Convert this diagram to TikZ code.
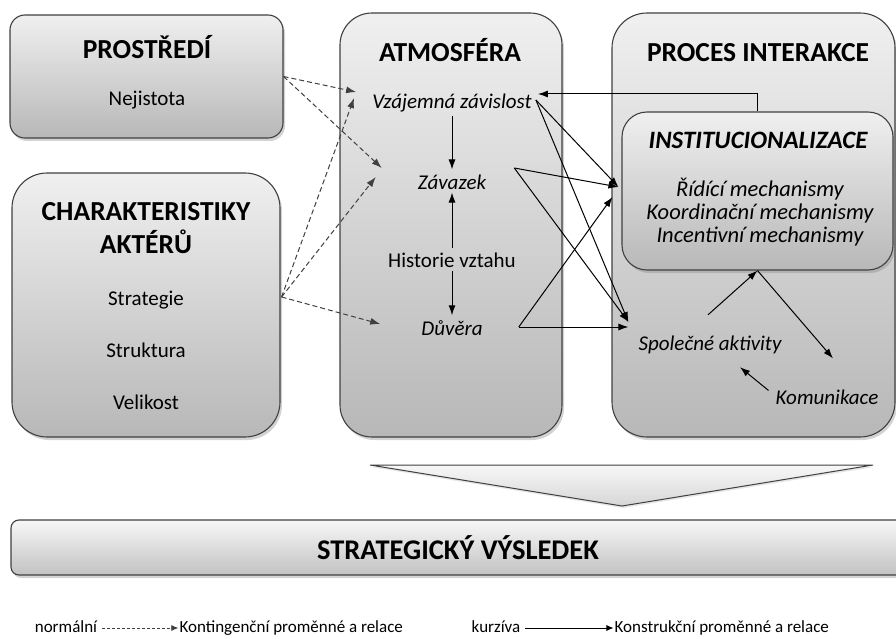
\documentclass[tikz,border=0pt]{standalone}
\usepackage{fontspec}
\setmainfont{Carlito}
\usetikzlibrary{arrows.meta,positioning,calc,shadows}

\tikzset{
  panel/.style={draw=black!75, line width=1.1pt, top color=black!6, bottom color=black!28,
    drop shadow={shadow xshift=2pt, shadow yshift=-3pt, opacity=0.35}, inner sep=0pt},
  paneltitle/.style={font=\fontsize{27.5}{33}\selectfont\bfseries, inner sep=1pt},
  item/.style={font=\fontsize{21}{25}\selectfont, inner sep=1pt},
  itemit/.style={font=\fontsize{21}{25}\selectfont\itshape, inner sep=1pt},
  construct/.style={-{Latex[length=10pt,width=7pt]}, line width=1pt, black},
  contingent/.style={-{Latex[length=10pt,width=7pt]}, line width=1pt, black!75, dash pattern=on 5pt off 3pt},
  legendtext/.style={font=\fontsize{17}{20}\selectfont, inner sep=1pt, text height=12pt, text depth=4pt},
}

\begin{document}
\begin{tikzpicture}[x=1pt,y=-1pt]
\useasboundingbox (0,0) rectangle (896,639);

% panels
\node[panel, rounded corners=15pt, minimum width=273pt, minimum height=123pt] (prostredi) at (146.5,76.5) {};
\node[panel, rounded corners=35pt, minimum width=268pt, minimum height=264pt] (aktery) at (146,305) {};
\node[panel, rounded corners=32pt, minimum width=222pt, minimum height=424pt] (atmos) at (451,225) {};
\node[panel, rounded corners=35pt, minimum width=283pt, minimum height=424pt] (proces) at (753.5,225) {};
\node[panel, rounded corners=25pt, minimum width=271pt, minimum height=158pt] (inst) at (757.5,191) {};

% prostredi + aktery
\node[paneltitle] (tprostredi) at (147,47) {PROSTŘEDÍ};
\node[item] (nejistota) at (147,100) {Nejistota};
\node[paneltitle, align=center] (taktery) at (146,228) {CHARAKTERISTIKY\\AKTÉRŮ};
\node[item] (strategie) at (146,300) {Strategie};
\node[item] (struktura) at (146,350) {Struktura};
\node[item] (velikost) at (146,402) {Velikost};

% atmosfera
\node[paneltitle] (tatmos) at (450,50) {ATMOSFÉRA};
\node[itemit] (vz) at (452,103) {Vzájemná závislost};
\node[itemit] (zav) at (452,182) {Závazek};
\node[item] (hist) at (452,260) {Historie vztahu};
\node[itemit] (duv) at (452,328) {Důvěra};

% proces interakce
\node[paneltitle] (tproces) at (758,53) {PROCES INTERAKCE};
\node[font=\fontsize{25}{30}\selectfont\bfseries\itshape, inner sep=1pt] (tinst) at (758,140) {INSTITUCIONALIZACE};
\node[font=\fontsize{22.5}{23}\selectfont\itshape, align=center, inner sep=1pt] (mech) at (760,212)
  {Řídící mechanismy\\Koordinační mechanismy\\Incentivní mechanismy};
\node[itemit] (spol) at (710,345) {Společné aktivity};
\node[itemit] (kom) at (827,397) {Komunikace};

% vysledek
\draw[draw=black!75, line width=1pt, top color=black!3, bottom color=black!16,
  drop shadow={shadow xshift=1pt, shadow yshift=-2pt, opacity=0.2}]
  (370,465) -- (873,465) -- (622,506) -- cycle;
\node[panel, rounded corners=8pt, minimum width=894pt, minimum height=55pt, top color=black!3, bottom color=black!24,
  font=\fontsize{28.5}{33}\selectfont\bfseries] (vysledek) at (458,547.5) {STRATEGICKÝ VÝSLEDEK};

% contingent relations
\coordinate (akout) at ($(aktery.east)+(1,-8)$);
\draw[contingent] (prostredi.east) -- ($(vz.west)+(-15,-11)$);
\draw[contingent] (prostredi.east) -- ($(zav.west)+(-35,-14)$);
\draw[contingent] (akout) -- ($(vz.west)+(-17,-5)$);
\draw[contingent] (akout) -- ($(zav.west)+(-41,-5)$);
\draw[contingent] (akout) -- ($(duv.west)+(-40,-4)$);

% construct relations
\draw[construct, shorten <=3pt, shorten >=4pt] (vz.south) -- (zav.north);
\draw[construct, shorten <=3pt, shorten >=2pt] (hist.north) -- (zav.south);
\draw[construct, shorten <=2pt, shorten >=4pt] (hist.south) -- (duv.north);

\coordinate (vzout) at ($(vz.east)+(3,-3)$);
\coordinate (zavout) at ($(zav.east)+(27,-14)$);
\coordinate (duvout) at ($(duv.east)+(35,-1)$);
\draw[construct] (vzout) -- ($(inst.west)+(-3,-4)$);
\draw[construct] (vzout) -- ($(spol.west)+(-9,-23)$);
\draw[construct] (zavout) -- ($(inst.west)+(-3,-4)$);
\draw[construct] (zavout) -- ($(spol.west)+(-9,-23)$);
\draw[construct] (duvout) -- ($(inst.west)+(-9,6)$);
\draw[construct] (duvout) -- ($(spol.west)+(-9,-18)$);
\draw[construct] (inst.north) |- ($(vz.east)+(5,-9)$);

\draw[construct] ($(spol.north)+(-2,-20)$) -- (inst.south);
\draw[construct] (inst.south) -- ($(kom.north)+(6,-30)$);
\draw[construct] ($(kom.north west)+(-6,2)$) -- ($(spol.south)+(30,12)$);

% legend
\node[legendtext] (lnorm) at (66,628) {normální};
\node[legendtext, right=80pt of lnorm] (lkont) {Kontingenční proměnné a relace};
\draw[contingent, line width=0.8pt, dash pattern=on 3pt off 2pt, -{Latex[length=7pt,width=6pt]}, shorten <=4pt] (lnorm.east) -- (lkont.west);
\node[legendtext] (lkurz) at (496,628) {kurzíva};
\node[legendtext, right=92pt of lkurz] (lkons) {Konstrukční proměnné a relace};
\draw[construct, line width=0.8pt, -{Latex[length=7pt,width=6pt]}, shorten <=4pt] (lkurz.east) -- (lkons.west);
\end{tikzpicture}
\end{document}
